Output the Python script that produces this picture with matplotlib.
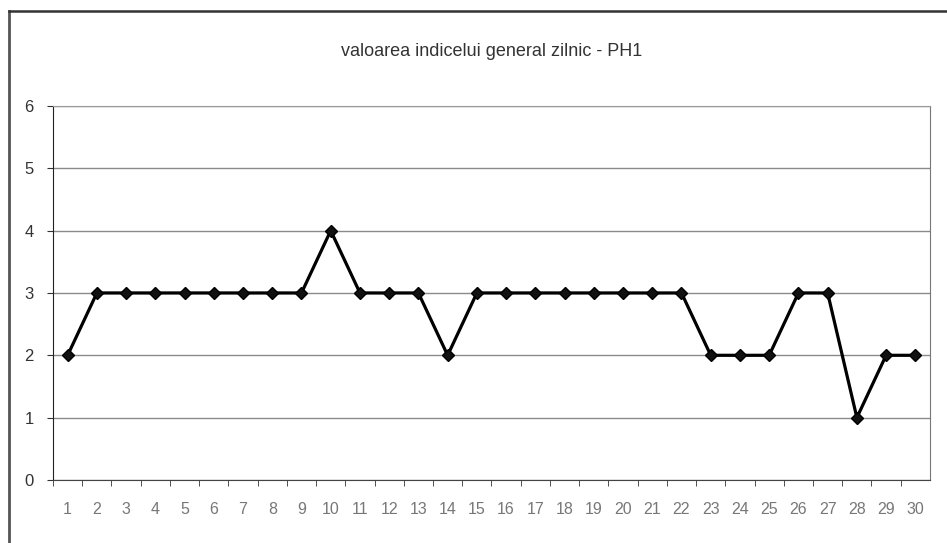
import matplotlib
matplotlib.use('Agg')
import matplotlib.pyplot as plt
from matplotlib.lines import Line2D

plt.rcParams['font.family'] = ['Liberation Sans', 'DejaVu Sans']

# zilele lunii si valoarea indicelui
zile = list(range(1, 31))
indice = [2, 3, 3, 3, 3, 3, 3, 3, 3, 4,
          3, 3, 3, 2, 3, 3, 3, 3, 3, 3,
          3, 3, 2, 2, 2, 3, 3, 1, 2, 2]
titlu = 'valoarea indicelui general zilnic - PH1'

fig = plt.figure(figsize=(9.47, 5.43), dpi=100)
ax = fig.add_axes([0.056, 0.116, 0.926, 0.689])

# gridlines
for v in range(0, 7):
    ax.axhline(v, color='#8a8a8a', linewidth=1.0, zorder=1)

ax.plot(zile, indice, color='black', linewidth=2.3, marker='D',
        markersize=6.5, markerfacecolor='#111111', markeredgecolor='black',
        zorder=3)

ax.set_xlim(0.5, 30.5)
ax.set_ylim(0, 6)
ax.set_xticks(zile)
ax.set_xticklabels([str(z) for z in zile], color='#777777', fontsize=11.5)
ax.set_xticks([z + 0.5 for z in range(0, 30)], minor=True)
ax.tick_params(axis='x', which='major', length=0, pad=16)
ax.tick_params(axis='x', which='minor', length=4, direction='out',
               color='#333333')
ax.set_yticks(range(0, 7))
ax.tick_params(axis='y', length=4, direction='out', labelsize=12,
               labelcolor='#333333', pad=10, color='#333333')

ax.spines['left'].set_color('#222222')
ax.spines['bottom'].set_color('#444444')
ax.spines['top'].set_color('#9a9a9a')
ax.spines['right'].set_color('#777777')

ax.set_title(titlu, fontsize=13, color='#333333', pad=36)

# cadrul exterior al graficului
x0, y0 = 9 / 947, 1 - 11 / 543
fig.add_artist(Line2D([x0, x0], [0, y0], transform=fig.transFigure,
                      color='#555555', linewidth=2))
fig.add_artist(Line2D([x0, 1], [y0, y0], transform=fig.transFigure,
                      color='#333333', linewidth=1.8))

fig.savefig('out.png', dpi=100)
